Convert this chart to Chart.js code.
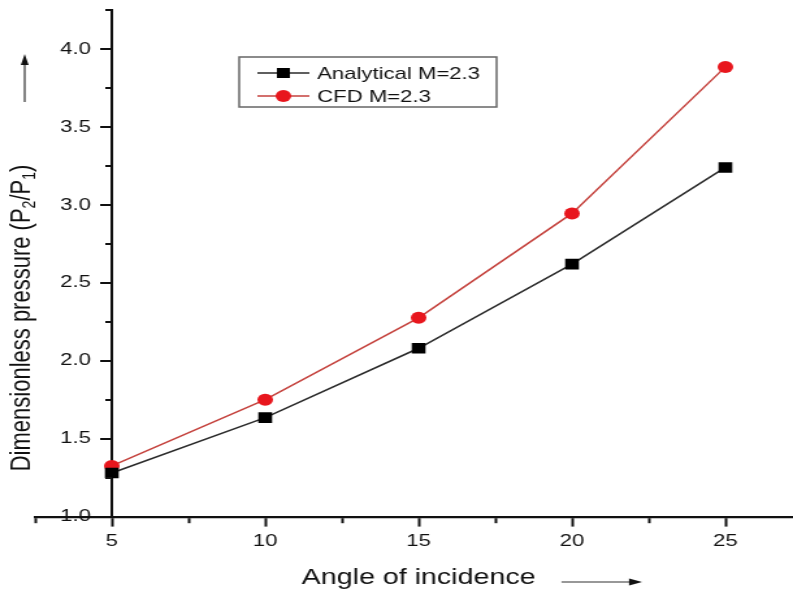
<!DOCTYPE html>
<html>
<head>
<meta charset="utf-8">
<script src="https://cdn.jsdelivr.net/npm/chart.js@4"></script>
<style>
  html, body { margin: 0; padding: 0; background: #fff; overflow: hidden; }
  #wrap { width: 793px; height: 592px; overflow: hidden; position: relative; }
  /* the reference picture is stretched sideways, so the canvas is too */
  #chart { position: absolute; left: 0; top: 0; transform: scaleX(1.3); transform-origin: 0 0; }
</style>
</head>
<body>
<div id="wrap"><canvas id="chart" width="630" height="592"></canvas></div>
<script>
const angles = [5, 10, 15, 20, 25];
const analyticalValues = [1.28, 1.635, 2.08, 2.62, 3.24];
const cfdValues = [1.325, 1.75, 2.275, 2.945, 3.885];
const seriesNames = ['Analytical M=2.3', 'CFD M=2.3'];
const xMajorStep = 5;
const yMajorStep = 0.5;
const yTicks = [1.0, 1.5, 2.0, 2.5, 3.0, 3.5, 4.0];
const xTitle = 'Angle of incidence';
const yTitleParts = ['Dimensionless pressure (P', '2', '/P', '1', ')'];

const FONT = '"Liberation Sans", Arial, sans-serif';
const INK = '#111';

function pts(values) {
    return angles.map((a, i) => ({ x: a, y: values[i] }));
}

function isMajor(v, step) {
    return Math.abs(v / step - Math.round(v / step)) < 1e-6;
}

function arrowHead(ctx, x, y, dx, dy, len, half) {
    // tip at (x, y), pointing along (dx, dy)
    ctx.beginPath();
    ctx.moveTo(x, y);
    ctx.lineTo(x - dx * len - dy * half, y - dy * len + dx * half);
    ctx.lineTo(x - dx * len + dy * half, y - dy * len - dx * half);
    ctx.closePath();
    ctx.fill();
}

const decor = {
    id: 'decor',
    afterDraw(chart) {
        const ctx = chart.ctx;
        const area = chart.chartArea;
        const sx = chart.scales.x, sy = chart.scales.y;
        const axisX = sx.getPixelForValue(angles[0]);
        ctx.save();
        ctx.fillStyle = INK;

        // y tick labels, left of the axis at x = 5
        ctx.font = '17px ' + FONT;
        ctx.textAlign = 'right';
        ctx.textBaseline = 'middle';
        yTicks.forEach(v => {
            ctx.fillText(v.toFixed(1), axisX - 16, sy.getPixelForValue(v));
        });

        // x title + arrow
        ctx.strokeStyle = '#333';
        ctx.font = '22px ' + FONT;
        ctx.textAlign = 'center';
        const cx = (area.left + area.right) / 2;
        ctx.fillText(xTitle, cx, 578);
        const tEnd = cx + ctx.measureText(xTitle).width / 2;
        ctx.lineWidth = 1.2;
        ctx.beginPath();
        ctx.moveTo(tEnd + 20, 582);
        ctx.lineTo(tEnd + 76, 582);
        ctx.stroke();
        arrowHead(ctx, tEnd + 82, 582, 1, 0, 10, 3.5);

        // y title (rotated, with subscripts) + arrow
        const big = '22px ' + FONT, small = '14px ' + FONT;
        let total = 0;
        yTitleParts.forEach((p, i) => {
            ctx.font = i % 2 ? small : big;
            total += ctx.measureText(p).width;
        });
        ctx.save();
        ctx.translate(17, 318);
        ctx.rotate(-Math.PI / 2);
        ctx.textAlign = 'left';
        let x = -total / 2;
        yTitleParts.forEach((p, i) => {
            ctx.font = i % 2 ? small : big;
            ctx.fillText(p, x, i % 2 ? 6 : 0);
            x += ctx.measureText(p).width;
        });
        ctx.restore();
        ctx.beginPath();
        ctx.moveTo(19, 102);
        ctx.lineTo(19, 64);
        ctx.stroke();
        arrowHead(ctx, 19, 54, 0, -1, 11, 3);

        // legend box inside the plot
        const bx = 184, by = 57, bw = 198, bh = 50;
        ctx.strokeStyle = '#666';
        ctx.lineWidth = 1.5;
        ctx.strokeRect(bx, by, bw, bh);
        ctx.font = '17px ' + FONT;
        ctx.textAlign = 'left';
        chart.data.datasets.forEach((ds, i) => {
            const y = 73 + i * 23;
            ctx.strokeStyle = ds.borderColor;
            ctx.lineWidth = ds.borderWidth;
            ctx.beginPath();
            ctx.moveTo(198, y);
            ctx.lineTo(238, y);
            ctx.stroke();
            ctx.fillStyle = ds.pointBackgroundColor;
            ctx.beginPath();
            if (ds.pointStyle === 'rect') {
                ctx.rect(218 - 5, y - 5, 10, 10);
            } else {
                ctx.arc(218, y, ds.pointRadius, 0, Math.PI * 2);
            }
            ctx.fill();
            ctx.fillStyle = INK;
            ctx.fillText(ds.label, 244, y + 1);
        });

        // y tick marks (major and minor) pointing left of the axis, drawn last
        ctx.setLineDash([]);
        ctx.strokeStyle = INK;
        ctx.lineWidth = 2;
        sy.ticks.forEach(t => {
            const py = Math.round(sy.getPixelForValue(t.value));
            const len = isMajor(t.value, yMajorStep) ? 9 : 5;
            ctx.beginPath();
            ctx.moveTo(axisX, py);
            ctx.lineTo(axisX - len, py);
            ctx.stroke();
        });
        ctx.restore();
    }
};

new Chart(document.getElementById('chart'), {
    type: 'line',
    data: {
        datasets: [{
            label: seriesNames[0],
            data: pts(analyticalValues),
            borderColor: '#2a2a2a',
            borderWidth: 1.5,
            pointStyle: 'rect',
            pointRadius: 7.5,
            pointBackgroundColor: '#000',
            pointBorderColor: '#000',
            pointBorderWidth: 0
        }, {
            label: seriesNames[1],
            data: pts(cfdValues),
            borderColor: '#c4413c',
            borderWidth: 1.5,
            pointStyle: 'circle',
            pointRadius: 6,
            pointBackgroundColor: '#e8161d',
            pointBorderColor: '#e8161d',
            pointBorderWidth: 0
        }]
    },
    options: {
        responsive: false,
        animation: false,
        layout: { padding: { left: 27, right: 13, top: 10, bottom: 35 } },
        plugins: { legend: { display: false }, tooltip: { enabled: false } },
        scales: {
            x: {
                type: 'linear', min: 2.5, max: 27.5,
                position: 'bottom',
                ticks: {
                    stepSize: 2.5, autoSkip: false, maxRotation: 0,
                    font: { family: FONT, size: 17 }, color: INK, padding: 5,
                    callback: v => isMajor(v, xMajorStep) ? String(v) : ''
                },
                grid: {
                    drawOnChartArea: false, tickLength: 10, tickWidth: 2, tickColor: INK,
                    // minor ticks: only the first half of the tick is inked
                    tickBorderDash: c => isMajor(c.tick.value, xMajorStep) ? [] : [5, 30]
                },
                border: { color: INK, width: 2.2 }
            },
            y: {
                type: 'linear', min: 1, max: 4.25,
                position: { x: 5 },
                ticks: { display: false, stepSize: 0.25 },
                grid: { drawOnChartArea: false, drawTicks: false },
                border: { color: INK, width: 2 }
            }
        }
    },
    plugins: [decor]
});
</script>
</body>
</html>
